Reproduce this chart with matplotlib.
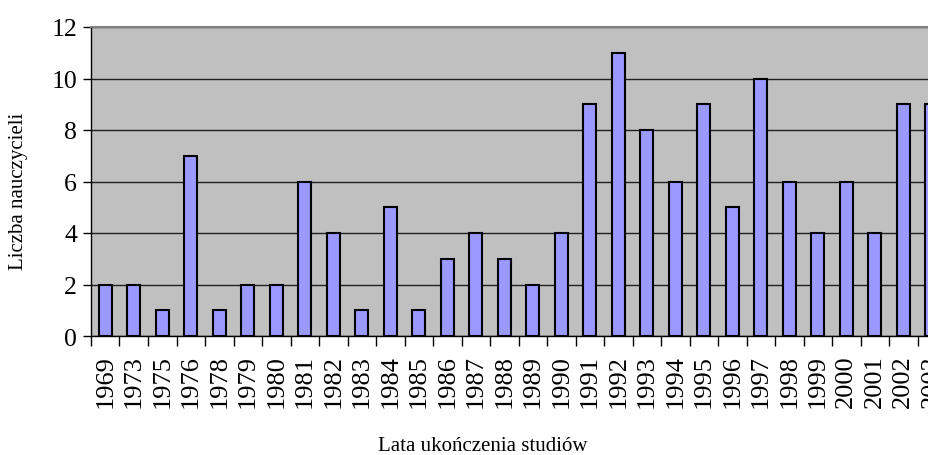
import matplotlib.pyplot as plt
import numpy as np

years = ['1969', '1973', '1975', '1976', '1978', '1979', '1980', '1981', '1982', '1983',
         '1984', '1985', '1986', '1987', '1988', '1989', '1990', '1991', '1992', '1993',
         '1994', '1995', '1996', '1997', '1998', '1999', '2000', '2001', '2002', '2003']
teachers = [2, 2, 1, 7, 1, 2, 2, 6, 4, 1, 5, 1, 3, 4, 3, 2, 4, 9, 11, 8,
            6, 9, 5, 10, 6, 4, 6, 4, 9, 9]

plt.rcParams['font.family'] = ['Liberation Serif', 'DejaVu Serif']

fig = plt.figure(figsize=(9.29, 4.56), dpi=100)
# axes runs past the right edge, like in the original (last bar is cut)
ax = fig.add_axes([91 / 929, 1 - 337 / 456, 30 * 28.5 / 929, 309 / 456])
ax.set_facecolor('#C0C0C0')

x = np.arange(len(years))
ax.bar(x, teachers, width=0.46, color='#9999FF', edgecolor='black', linewidth=1.5, zorder=3)

ax.set_xlim(-0.5, len(years) - 0.5)
ax.set_ylim(0, 12)
ax.set_yticks(range(0, 13, 2))
ax.yaxis.grid(True, color='#202020', linewidth=1, zorder=1)
ax.set_axisbelow(True)

# ticks between categories, labels at centres
ax.set_xticks(np.arange(-0.5, len(years), 1))
ax.set_xticklabels([])
ax.set_xticks(x, minor=True)
ax.set_xticklabels(years, minor=True, rotation=90, fontsize=19)
ax.tick_params(axis='x', which='minor', length=0, pad=13)
ax.tick_params(axis='x', which='major', length=7, width=1, direction='out')
ax.tick_params(axis='y', labelsize=18.5, length=6, width=1, direction='out', pad=4)

for s in ['top', 'right']:
    ax.spines[s].set_color('#808080')
    ax.spines[s].set_linewidth(1.5)
ax.spines['left'].set_linewidth(1)
ax.spines['bottom'].set_linewidth(1)

fig.text(483 / 929, 1 - 447 / 456, 'Lata ukończenia studiów', ha='center', va='center', fontsize=15)
fig.text(19 / 929, 1 - 191 / 456, 'Liczba nauczycieli', ha='center', va='center',
         rotation=90, fontsize=15)

fig.savefig('out.png', dpi=100)
